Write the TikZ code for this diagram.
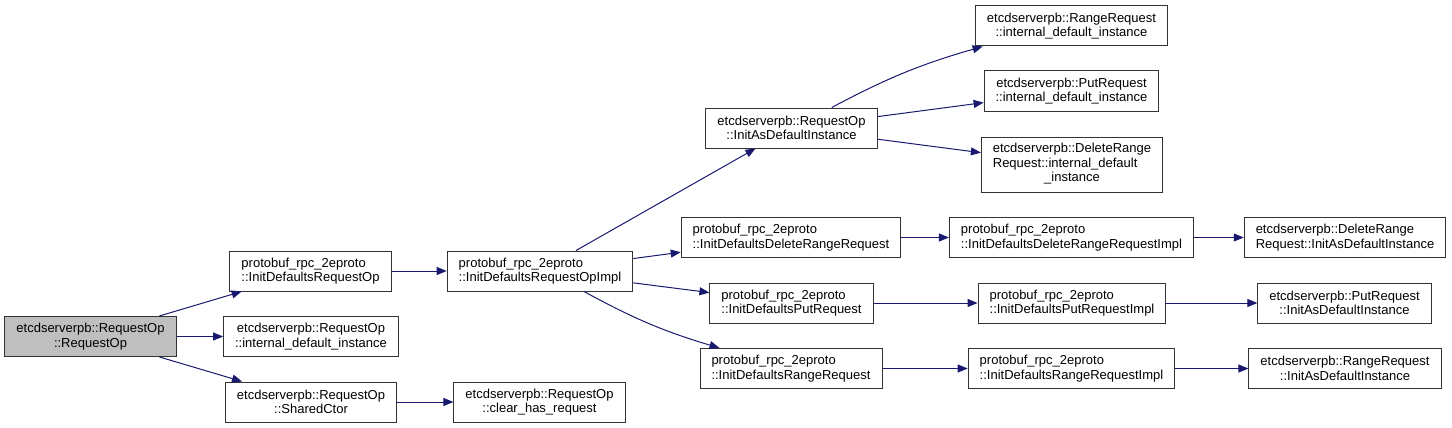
\documentclass[tikz,border=0pt]{standalone}
\usepackage{fontspec}
\setmainfont{Liberation Sans}
\usepackage{tikz}
\usetikzlibrary{arrows.meta}
\usepackage{xcolor}
\definecolor{edgeblue}{HTML}{191970}
\definecolor{rootgray}{HTML}{BFBFBF}

\begin{document}
\begin{tikzpicture}[x=1pt, y=-1pt,
      fn/.style={draw=black!80, line width=1pt, minimum height=40pt,
                 inner xsep=11.5pt, inner ysep=2pt,
                 font=\fontsize{13}{14.5}\selectfont, align=center},
      fnl/.style={fn, align=left},
      arr/.style={-{Triangle[length=10pt, width=8pt]}, edgeblue, line width=1pt}
    ]
      \useasboundingbox (0,0) rectangle (1452,428);

      \node[fn, fill=rootgray] (reqop) at (90.5,336.5) {etcdserverpb::RequestOp\\::RequestOp};
      \node[fnl] (initop) at (310.5,271) {protobuf\_rpc\_2eproto\\::InitDefaultsRequestOp};
      \node[fn] (idinst) at (311,336.5) {etcdserverpb::RequestOp\\::internal\_default\_instance};
      \node[fn] (ctor) at (311,402) {etcdserverpb::RequestOp\\::SharedCtor};
      \node[fn] (clrreq) at (539.5,402) {etcdserverpb::RequestOp\\::clear\_has\_request};
      \node[fnl] (initimpl) at (540,271) {protobuf\_rpc\_2eproto\\::InitDefaultsRequestOpImpl};

      \node[fn] (asdef) at (791.5,128) {etcdserverpb::RequestOp\\::InitAsDefaultInstance};
      \node[fnl] (initdr) at (791,237.5) {protobuf\_rpc\_2eproto\\::InitDefaultsDeleteRangeRequest};
      \node[fnl] (initpr) at (791.5,303) {protobuf\_rpc\_2eproto\\::InitDefaultsPutRequest};
      \node[fnl] (initrr) at (791,368.5) {protobuf\_rpc\_2eproto\\::InitDefaultsRangeRequest};

      \node[fn] (rrinst) at (1071.5,26) {etcdserverpb::RangeRequest\\::internal\_default\_instance};
      \node[fn] (prinst) at (1071.5,91) {etcdserverpb::PutRequest\\::internal\_default\_instance};
      \node[fn, minimum height=55pt] (drinst) at (1072,164.5)
        {\begin{tabular}{@{}l@{}}etcdserverpb::DeleteRange\\Request::internal\_default\\
         \multicolumn{1}{@{}c@{}}{\_instance}\end{tabular}};
      \node[fnl] (drimpl) at (1071.5,237.5) {protobuf\_rpc\_2eproto\\::InitDefaultsDeleteRangeRequestImpl};
      \node[fnl] (primpl) at (1072,303) {protobuf\_rpc\_2eproto\\::InitDefaultsPutRequestImpl};
      \node[fnl] (rrimpl) at (1071.5,368.5) {protobuf\_rpc\_2eproto\\::InitDefaultsRangeRequestImpl};

      \node[fnl] (drasdef) at (1345,237.5) {etcdserverpb::DeleteRange\\Request::InitAsDefaultInstance};
      \node[fn] (prasdef) at (1344.5,303) {etcdserverpb::PutRequest\\::InitAsDefaultInstance};
      \node[fn] (rrasdef) at (1345,368.5) {etcdserverpb::RangeRequest\\::InitAsDefaultInstance};

      \draw[arr] (reqop) -- (initop);
      \draw[arr] (reqop) -- (idinst);
      \draw[arr] (reqop) -- (ctor);
      \draw[arr] (initop) -- (initimpl);
      \draw[arr] (ctor) -- (clrreq);

      \draw[arr] (initimpl) -- (asdef);
      \draw[arr] (initimpl) -- (initdr);
      \draw[arr] (initimpl) -- (initpr);
      \draw[arr] (initimpl.-25) to[bend right=6] (initrr.164);

      \draw[arr] (asdef.27) to[bend left=6] (rrinst.193);
      \draw[arr] (asdef) -- (prinst);
      \draw[arr] (asdef) -- (drinst);

      \draw[arr] (initdr) -- (drimpl);
      \draw[arr] (initpr) -- (primpl);
      \draw[arr] (initrr) -- (rrimpl);
      \draw[arr] (drimpl) -- (drasdef);
      \draw[arr] (primpl) -- (prasdef);
      \draw[arr] (rrimpl) -- (rrasdef);
    \end{tikzpicture}
\end{document}
